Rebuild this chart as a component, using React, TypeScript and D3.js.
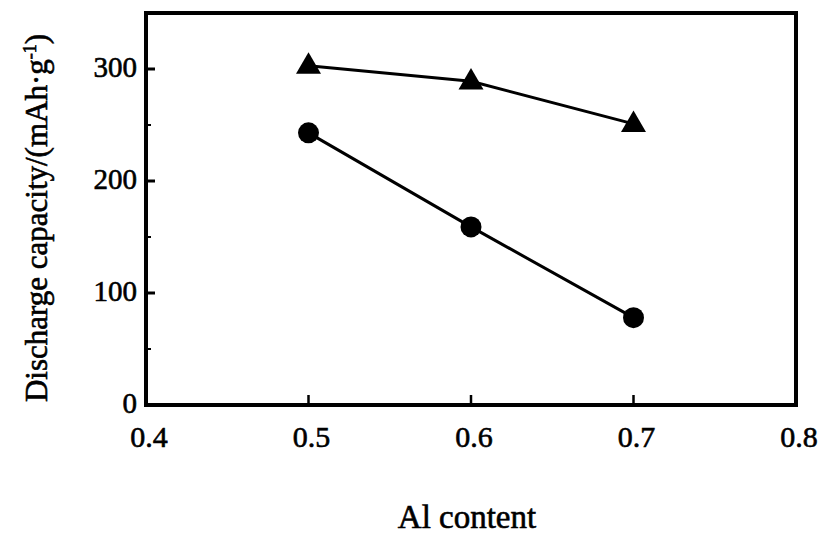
import React from "react";
import * as d3 from "d3";

const xValues = [0.5, 0.6, 0.7];
const triangleSeries = [303, 289, 251];
const circleSeries = [243, 159, 78];
const xTicks = [0.4, 0.5, 0.6, 0.7, 0.8];
const yTicks = [0, 100, 200, 300];
const yMinorTicks = [50, 150, 250];

const W = 828, H = 556;
const M = { left: 146, right: 796, top: 13, bottom: 405 };

export default function App() {
  const x = d3.scaleLinear().domain([0.4, 0.8]).range([M.left, M.right]);
  const y = d3.scaleLinear().domain([0, 350]).range([M.bottom, M.top]);
  const line = d3.line<[number, number]>().x(d => x(d[0])).y(d => y(d[1]));
  const tri = d3.symbol().type(d3.symbolTriangle).size(270)();
  const font = "'Liberation Serif', 'Times New Roman', serif";
  const txt = { fontFamily: font, fill: "#000", stroke: "#000", strokeWidth: 0.6 } as const;
  return (
    <svg width={W} height={H} style={{ position: "absolute", left: 0, top: 0, background: "#fff" }}>
      <rect x={M.left} y={M.top} width={M.right - M.left} height={M.bottom - M.top} fill="none" stroke="#000" strokeWidth={4} />
      {yTicks.filter(t => t > 0).map(t => (
        <line key={"yt" + t} x1={M.left} x2={M.left + 9} y1={y(t)} y2={y(t)} stroke="#000" strokeWidth={3} />
      ))}
      {yMinorTicks.map(t => (
        <line key={"ym" + t} x1={M.left} x2={M.left + 5} y1={y(t)} y2={y(t)} stroke="#000" strokeWidth={2} />
      ))}
      {xTicks.slice(1, -1).map(t => (
        <line key={"xt" + t} x1={x(t)} x2={x(t)} y1={M.bottom} y2={M.bottom - 10} stroke="#000" strokeWidth={2.5} />
      ))}
      {yTicks.map(t => (
        <text key={"yl" + t} x={M.left - 9} y={y(t) - 2} dy="0.35em" textAnchor="end" fontSize={29} {...txt}>{t}</text>
      ))}
      {xTicks.map(t => (
        <text key={"xl" + t} x={x(t) + 3} y={447} textAnchor="middle" fontSize={30} {...txt}>{t.toFixed(1)}</text>
      ))}
      <path d={line(xValues.map((v, i) => [v, triangleSeries[i]]) as any) || ""} fill="none" stroke="#000" strokeWidth={3} />
      <path d={line(xValues.map((v, i) => [v, circleSeries[i]]) as any) || ""} fill="none" stroke="#000" strokeWidth={3} />
      {xValues.map((v, i) => (
        <path key={"tr" + i} d={tri || ""} transform={`translate(${x(v)},${y(triangleSeries[i]) + 1})`} fill="#000" />
      ))}
      <g>
        {xValues.map((v, i) => (
          <circle key={"c" + i} cx={x(v)} cy={y(circleSeries[i])} r={10.5} fill="#000" />
        ))}
      </g>
      <text x={467} y={528} textAnchor="middle" fontSize={33} {...txt}>Al content</text>
      <text transform="translate(47,218) rotate(-90)" textAnchor="middle" fontSize={31} {...txt}>
        Discharge capacity/(mAh·g<tspan dy={-11} fontSize={18}>-1</tspan><tspan dy={11}>)</tspan>
      </text>
    </svg>
  );
}
